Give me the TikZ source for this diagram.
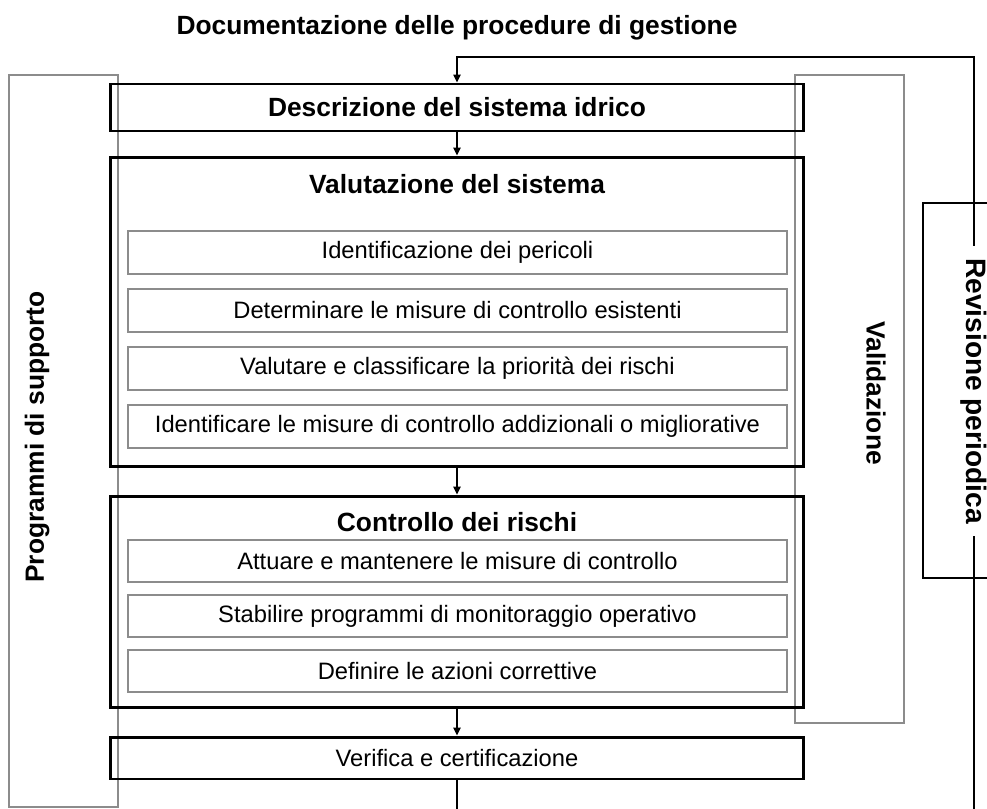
\documentclass[tikz,border=0pt]{standalone}
\usepackage{fontspec}
\setmainfont{Liberation Sans}
\usetikzlibrary{arrows.meta}
\definecolor{framegray}{RGB}{140,140,140}
\begin{document}
\begin{tikzpicture}[x=0.02cm,y=-0.02cm,
    >={Triangle[length=4.5pt,width=4pt]},
    hd/.style={font=\fontsize{15}{18}\selectfont\bfseries},
    txt/.style={font=\fontsize{13.5}{16}\selectfont},
    mainbox/.style={draw, line width=1.7pt, minimum width=13.88cm, inner sep=0pt},
    subbox/.style={draw=framegray, line width=1.1pt, minimum width=13.18cm,
      minimum height=0.85cm, inner sep=0pt, txt},
    sidebox/.style={draw=framegray, line width=1.1pt, minimum width=2.18cm, inner sep=0pt},
    link/.style={line width=1.1pt}]
  \useasboundingbox (0,0) rectangle (987,808);
  \clip (0,0) rectangle (987,808);
  % side frames
  \node[sidebox, minimum height=14.64cm] (supp) at (63.5,441) {};
  \node[sidebox, minimum height=12.96cm] (valid) at (849.5,399) {};
  \node[hd, rotate=90] (supplbl) at (37,437) {Programmi di supporto};
  \node[hd, rotate=-90] (validlbl) at (876,393) {Validazione};
  % title
  \node[hd] (doc) at (457,28) {Documentazione delle procedure di gestione};
  % main column
  \node[mainbox, minimum height=0.94cm, hd] (desc) at (457,107.5) {Descrizione del sistema idrico};
  \node[mainbox, minimum height=6.2cm] (val) at (457,312) {};
  \node[hd] (valtit) at (457,184) {Valutazione del sistema};
  \foreach \t [count=\i] in {Identificazione dei pericoli,
      Determinare le misure di controllo esistenti,
      Valutare e classificare la priorità dei rischi,
      Identificare le misure di controllo addizionali o migliorative}
    \node[subbox] (va\i) at (457.5,194.5+58*\i) {\t};
  \node[mainbox, minimum height=4.24cm] (ctrl) at (457,602) {};
  \node[hd] (ctrltit) at (457,522) {Controllo dei rischi};
  \foreach \t [count=\i] in {Attuare e mantenere le misure di controllo,
      Stabilire programmi di monitoraggio operativo,
      Definire le azioni correttive}
    \node[subbox] (ct\i) at (457.5,506+55*\i) {\t};
  \node[mainbox, minimum height=0.84cm, txt] (verif) at (457,758) {Verifica e certificazione};
  % arrows
  \draw[link,->] (desc) -- (val);
  \draw[link,->] (val) -- (ctrl);
  \draw[link,->] (ctrl) -- (verif);
  % periodic review loop
  \coordinate (lpbot) at (974,830);
  \coordinate (lptop) at (974,57);
  \draw[link,->] (verif.south) |- (lpbot) -- (lptop) -| (desc.north);
  \node[draw, line width=1.1pt, minimum width=2.1cm, minimum height=7.5cm, inner sep=0pt] (revbox) at (975.5,390.5) {};
  \node[hd, font=\fontsize{16}{19}\selectfont\bfseries, rotate=-90, fill=white,
    inner xsep=7pt, inner ysep=1pt] (revlbl) at (974,391) {Revisione periodica};
\end{tikzpicture}
\end{document}
